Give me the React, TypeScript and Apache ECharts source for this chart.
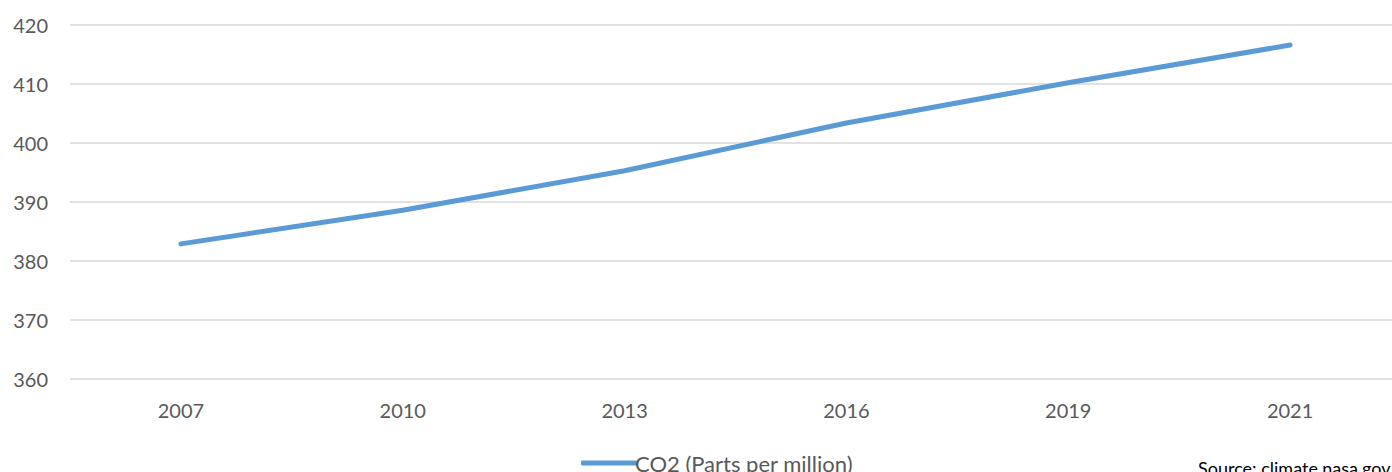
import React, { useEffect, useRef } from "react";
import * as echarts from "echarts";

const years = ["2007", "2010", "2013", "2016", "2019", "2021"];
const co2 = [382.9, 388.6, 395.3, 403.4, 410.2, 416.6];
const seriesName = "CO2 (Parts per million)";
const sourceText = "Source: climate.nasa.gov";

export default function App() {
  const ref = useRef<HTMLDivElement>(null);
  useEffect(() => {
    if (!ref.current) return;
    const chart = echarts.init(ref.current, undefined, { renderer: "svg" });
    const font = "Lato, 'Open Sans', sans-serif";
    chart.setOption({
      animation: false,
      backgroundColor: "#ffffff",
      grid: { left: 70, right: 0, top: 25, bottom: 93, containLabel: false },
      xAxis: {
        type: "category",
        data: years,
        boundaryGap: true,
        axisLine: { show: false },
        axisTick: { show: false },
        axisLabel: { color: "#595959", fontSize: 20, fontFamily: font, margin: 21 },
        splitLine: { show: false },
      },
      yAxis: {
        type: "value",
        min: 360,
        max: 420,
        interval: 10,
        axisLine: { show: false },
        axisTick: { show: false },
        axisLabel: { color: "#595959", fontSize: 20, fontFamily: font, margin: 22 },
        splitLine: { lineStyle: { color: "#d9d9d9", width: 1.5 } },
      },
      legend: {
        data: [{ name: seriesName, icon: "roundRect" }],
        left: 576,
        top: 447,
        itemWidth: 56,
        itemHeight: 5,
        itemGap: 4,
        textStyle: { color: "#595959", fontSize: 22, fontFamily: font, padding: [0, 0, 0, -7] },
      },
      series: [
        {
          name: seriesName,
          type: "line",
          data: co2,
          symbol: "none",
          lineStyle: { color: "#5B9BD5", width: 5, cap: "round", join: "round" },
          itemStyle: { color: "#5B9BD5" },
        },
      ],
      graphic: [
        {
          type: "text",
          left: 1198,
          top: 459,
          style: { text: sourceText, fill: "#000000", fontSize: 18, fontFamily: font },
        },
      ],
    });
    return () => chart.dispose();
  }, []);
  return (
    <div style={{ position: "fixed", left: 0, top: 0, width: 1392, height: 472, overflow: "hidden" }}>
      <div ref={ref} style={{ width: 1401, height: 472 }} />
    </div>
  );
}
